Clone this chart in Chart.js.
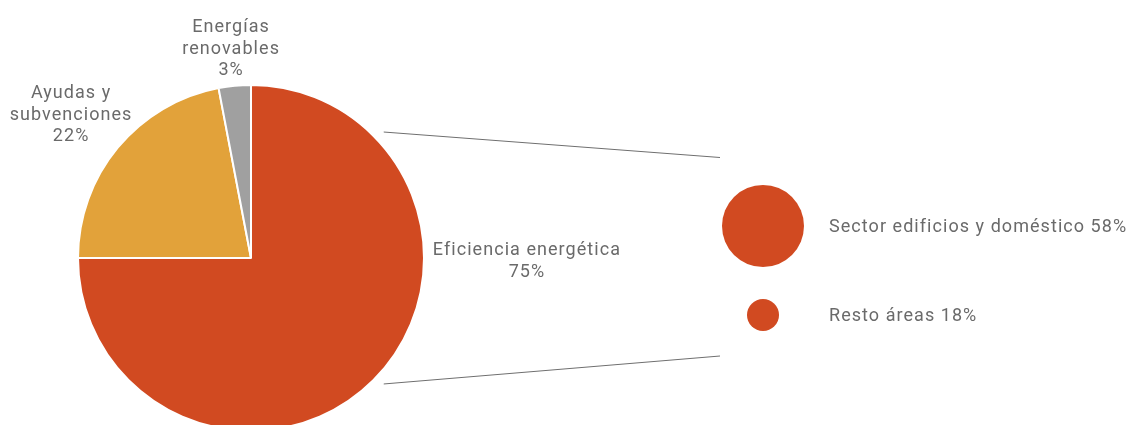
<!DOCTYPE html>
<html lang="es">
<head>
<meta charset="utf-8">
<script src="https://cdn.jsdelivr.net/npm/chart.js@4.4.1/dist/chart.umd.min.js"></script>
<style>
  html, body { margin: 0; padding: 0; background: #fff; overflow: hidden; }
  #wrap { position: relative; width: 1131px; height: 425px; overflow: hidden; }
  canvas { position: absolute; left: 0; top: 0; }
</style>
</head>
<body>
<div id="wrap">
  <canvas id="pie" width="1131" height="460"></canvas>
  <canvas id="bubbles" width="1131" height="460"></canvas>
</div>
<script>
// Distribución principal
const categories = ['Eficiencia energética', 'Ayudas y subvenciones', 'Energías renovables'];
const shares = [75, 22, 3];
const sliceColors = ['#D14A21', '#E2A23A', '#A0A0A0'];

// Desglose de eficiencia energética
const breakdownLabels = ['Sector edificios y doméstico', 'Resto áreas'];
const breakdownValues = [58, 18];

const FONT = '18px Roboto, "DejaVu Sans", sans-serif';
const SPACING = '1.05px';
const TEXT = '#6a6a6a';

// Label placement relative to pie centre, in units of the radius
const labelAnchors = [
  { dx: 1.595, dy: 0.02 },
  { dx: -1.04, dy: -0.826 },
  { dx: -0.115, dy: -1.208 }
];

const pieLabels = {
  id: 'pieLabels',
  afterDatasetsDraw(chart) {
    const { ctx } = chart;
    const meta = chart.getDatasetMeta(0);
    const arc0 = meta.data[0];
    const cx = arc0.x, cy = arc0.y, r = arc0.outerRadius;
    ctx.save();
    ctx.font = FONT;
    ctx.letterSpacing = SPACING;
    ctx.fillStyle = TEXT;
    ctx.textAlign = 'center';
    ctx.textBaseline = 'middle';
    const lh = 21.5;
    categories.forEach((name, i) => {
      const words = name.split(' ');
      let lines;
      if (i === 0) lines = [name];
      else if (i === 1) lines = [words.slice(0, 2).join(' '), words.slice(2).join(' ')];
      else lines = words;
      lines.push(shares[i] + '%');
      const a = labelAnchors[i];
      const x = cx + a.dx * r;
      const y0 = cy + a.dy * r - (lines.length - 1) * lh / 2;
      lines.forEach((t, k) => ctx.fillText(t, x, y0 + k * lh));
    });

    // Connector lines towards the breakdown
    ctx.strokeStyle = '#6f6f6f';
    ctx.lineWidth = 1;
    const ang = 43.5 * Math.PI / 180;
    const rr = r + 10;
    const x1 = cx + rr * Math.cos(ang);
    ctx.beginPath();
    ctx.moveTo(x1, cy - rr * Math.sin(ang));
    ctx.lineTo(720, cy - 100.5);
    ctx.moveTo(x1, cy + rr * Math.sin(ang));
    ctx.lineTo(720, cy + 98);
    ctx.stroke();
    ctx.restore();
  }
};

new Chart(document.getElementById('pie'), {
  type: 'pie',
  data: {
    labels: categories,
    datasets: [{
      data: shares,
      backgroundColor: sliceColors,
      borderColor: '#ffffff',
      borderWidth: 2
    }]
  },
  options: {
    responsive: false,
    animation: false,
    layout: { padding: { left: 77, top: 84, right: 706, bottom: 28 } },
    plugins: { legend: { display: false }, tooltip: { enabled: false } }
  },
  plugins: [pieLabels]
});

const bubbleLabels = {
  id: 'bubbleLabels',
  afterDatasetsDraw(chart) {
    const { ctx } = chart;
    const meta = chart.getDatasetMeta(0);
    ctx.save();
    ctx.font = FONT;
    ctx.letterSpacing = SPACING;
    ctx.fillStyle = TEXT;
    ctx.textAlign = 'left';
    ctx.textBaseline = 'middle';
    meta.data.forEach((pt, i) => {
      ctx.fillText(breakdownLabels[i] + ' ' + breakdownValues[i] + '%', 829, pt.y + 1);
    });
    ctx.restore();
  }
};

new Chart(document.getElementById('bubbles'), {
  type: 'bubble',
  data: {
    datasets: [{
      data: breakdownLabels.map((name, i) => ({ x: 0, y: name, v: breakdownValues[i] })),
      backgroundColor: '#D14A21',
      borderWidth: 0,
      radius: (ctx) => 4.75 + 0.625 * ctx.raw.v,
      clip: false
    }]
  },
  options: {
    responsive: false,
    animation: false,
    layout: { padding: { left: 700, top: 226, right: 305, bottom: 145 } },
    scales: {
      x: { type: 'linear', min: -1, max: 1, display: false },
      y: { type: 'category', labels: breakdownLabels, offset: false, display: false }
    },
    plugins: { legend: { display: false }, tooltip: { enabled: false } }
  },
  plugins: [bubbleLabels]
});
</script>
</body>
</html>
